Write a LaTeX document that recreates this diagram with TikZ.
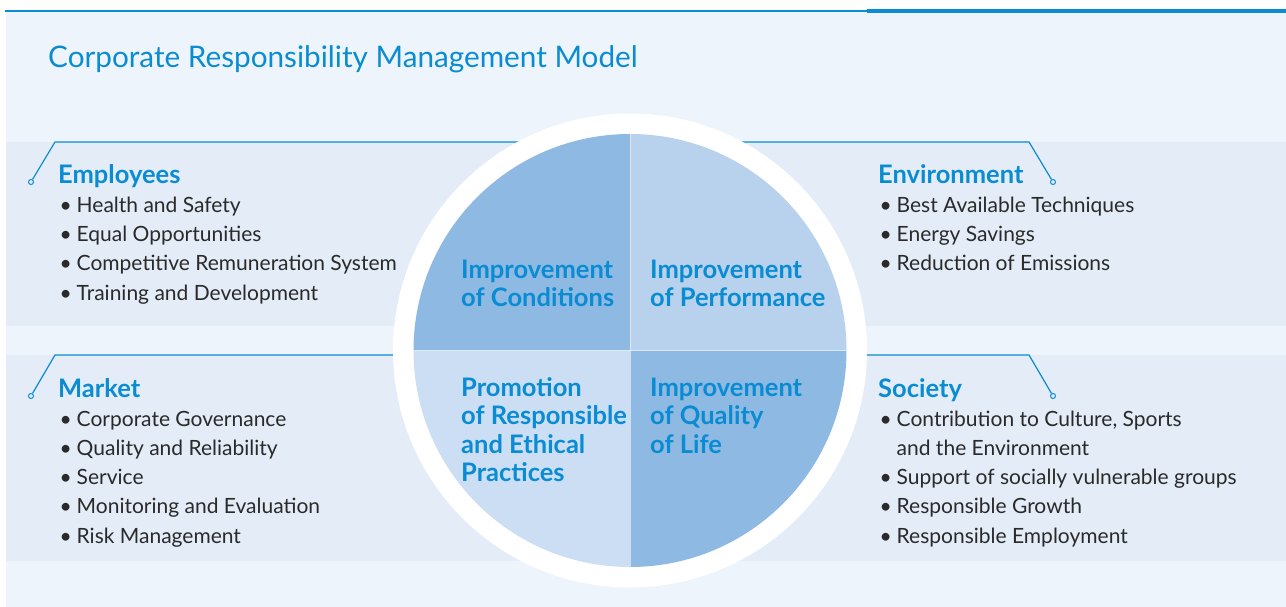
\documentclass[tikz,border=0pt]{standalone}
\usepackage{fontspec}
\setmainfont{Lato}
\definecolor{crblue}{HTML}{0A8CD2}
\definecolor{crpage}{HTML}{EEF4FB}
\definecolor{crband}{HTML}{E3ECF7}
\definecolor{crmid}{HTML}{8EB9E3}
\definecolor{crlight}{HTML}{B8D1EC}
\definecolor{crpale}{HTML}{CCDEF4}
\definecolor{crtext}{HTML}{2A2A2A}
\tikzset{
  heading/.style={anchor=base west, inner sep=0, text=crblue, font=\fontsize{25.5}{25.5}\selectfont\bfseries},
  item/.style={anchor=base west, inner sep=0, text=crtext, font=\fontsize{21}{21}\selectfont},
  quad/.style={anchor=base west, inner sep=0, text=crblue, font=\fontsize{25.5}{25.5}\selectfont\bfseries},
  leader/.style={draw=crblue, line width=1.2pt},
  dot/.style={circle, draw=crblue, fill=crband, line width=1pt, inner sep=0, minimum size=5pt}
}
\newcommand{\crbullet}{\makebox[17pt][l]{\textbullet}}

\begin{document}
\begin{tikzpicture}[x=1pt, y=-1pt]
    \useasboundingbox (0,0) rectangle (1286,607);
    % page and bands
    \fill[crpage] (6,11) rectangle (1286,607);
    \fill[crband] (6,142) rectangle (1286,326);
    \fill[crband] (6,355) rectangle (1286,561);
    \draw[crblue, line width=1.3pt] (5,11) -- (867,11);
    \draw[crblue, line width=4pt] (867,11) -- (1286,11);
    \node[anchor=base west, inner sep=0, text=crblue, font=\fontsize{29.7}{29.7}\selectfont] (title) at (48,68) {Corporate Responsibility Management Model};

    % leader lines
    \coordinate (hub) at (630,350.5);
    \node[dot] (dotE) at (31,182) {};
    \node[dot] (dotV) at (1053,182) {};
    \node[dot] (dotM) at (31,396) {};
    \node[dot] (dotS) at (1053,396) {};
    \draw[leader] (dotE) -- (55,142) -- (630,142);
    \draw[leader] (dotV) -- (1029,142) -- (630,142);
    \draw[leader] (dotM) -- (55,355) -- (630,355);
    \draw[leader] (dotS) -- (1029,355) -- (630,355);

    % wheel
    \fill[white] (hub) circle[radius=237];
    \fill[crmid] (hub) -- ++(180:216.5) arc[start angle=180, end angle=270, radius=216.5] -- cycle;
    \fill[crlight] (hub) -- ++(270:216.5) arc[start angle=270, end angle=360, radius=216.5] -- cycle;
    \fill[crmid] (hub) -- ++(0:216.5) arc[start angle=0, end angle=90, radius=216.5] -- cycle;
    \fill[crpale] (hub) -- ++(90:216.5) arc[start angle=90, end angle=180, radius=216.5] -- cycle;
    \draw[white, opacity=.5, line width=1pt] (hub) ++(0,-216.5) -- ++(0,433) (hub) ++(-216.5,0) -- ++(433,0);

    \foreach \txt [count=\i] in {Improvement, of Conditions}
        \node[quad] (cond\i) at (461,{249.5+28.5*\i}) {\txt};
    \foreach \txt [count=\i] in {Improvement, of Performance}
        \node[quad] (perf\i) at (650,{249.5+28.5*\i}) {\txt};
    \foreach \txt [count=\i] in {Promotion, of Responsible, and Ethical, Practices}
        \node[quad] (prom\i) at (461,{367.5+28.5*\i}) {\txt};
    \foreach \txt [count=\i] in {Improvement, of Quality, of Life}
        \node[quad] (life\i) at (650,{367.5+28.5*\i}) {\txt};

    % stakeholder lists
    \node[heading] (empl) at (58,183) {Employees};
    \foreach \txt [count=\i] in {Health and Safety, Equal Opportunities, Competitive Remuneration System, Training and Development}
        \node[item] (empl\i) at (59.5,{182.6+29.4*\i}) {\crbullet\txt};
    \node[heading] (mark) at (58,397) {Market};
    \foreach \txt [count=\i] in {Corporate Governance, Quality and Reliability, Service, Monitoring and Evaluation, Risk Management}
        \node[item] (mark\i) at (59.5,{396.7+29.3*\i}) {\crbullet\txt};
    \node[heading] (envi) at (878,183) {Environment};
    \foreach \txt [count=\i] in {Best Available Techniques, Energy Savings, Reduction of Emissions}
        \node[item] (envi\i) at (879.5,{182.6+29.4*\i}) {\crbullet\txt};
    \node[heading] (soci) at (878,397) {Society};
    \node[item] (soci1) at (879.5,426) {\crbullet Contribution to Culture, Sports};
    \node[item] (soci1b) at (896.5,455.3) {and the Environment};
    \foreach \txt [count=\i from 2] in {Support of socially vulnerable groups, Responsible Growth, Responsible Employment}
        \node[item] (soci\i) at (879.5,{426+29.3*\i}) {\crbullet\txt};
\end{tikzpicture}
\end{document}
